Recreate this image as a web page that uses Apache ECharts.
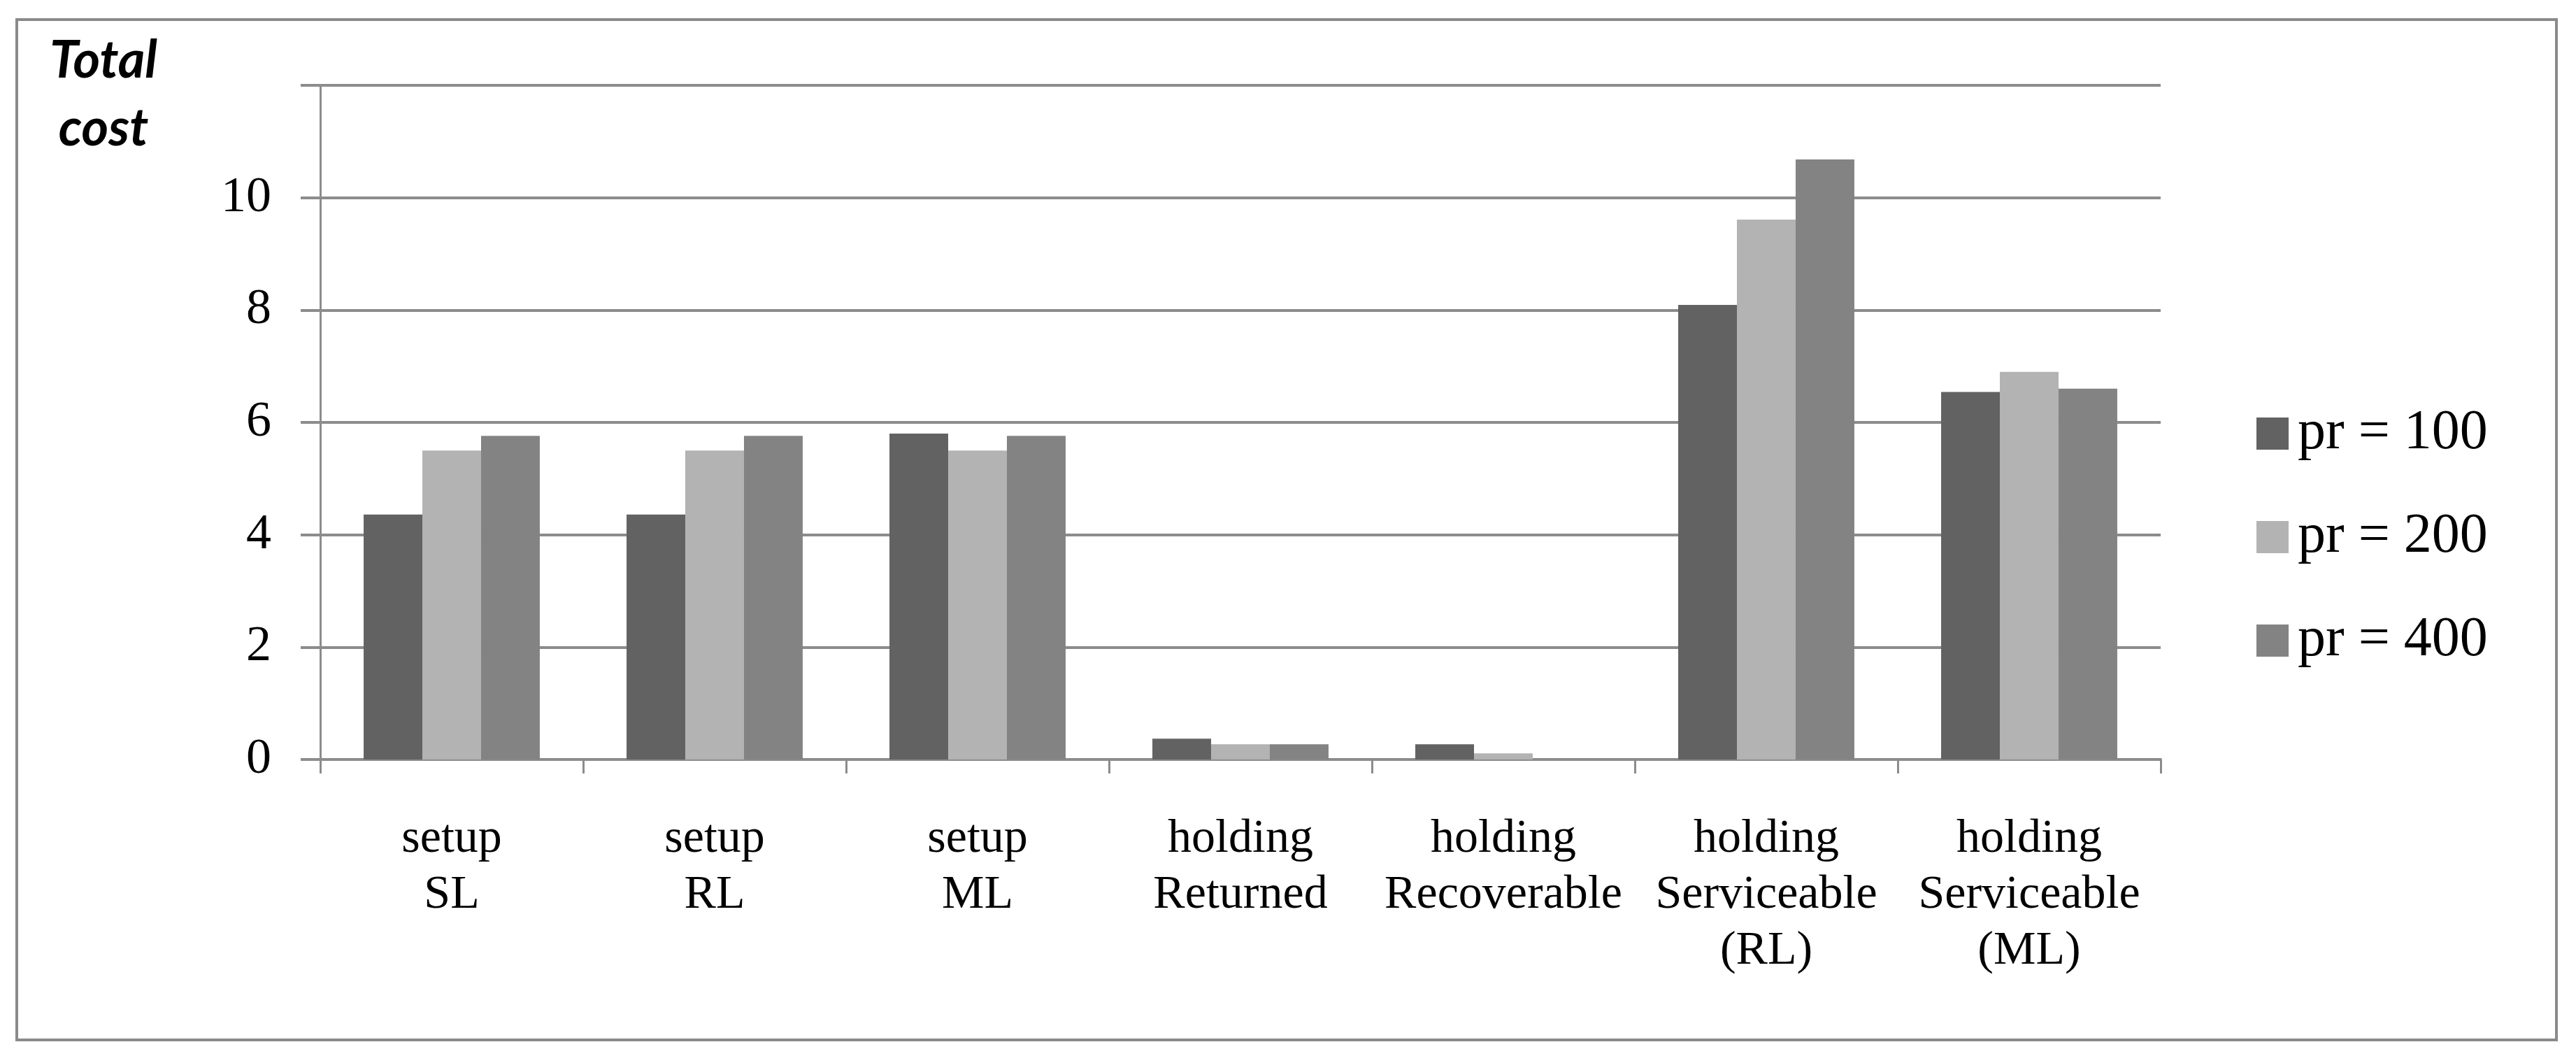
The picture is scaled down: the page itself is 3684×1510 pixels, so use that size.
<!DOCTYPE html>
<html>
<head>
<meta charset="utf-8">
<script src="https://cdn.jsdelivr.net/npm/echarts@6/dist/echarts.min.js"></script>
<style>html,body{margin:0;padding:0;background:#fff}#c{width:3684px;height:1510px}</style>
</head>
<body>
<div id="c"></div>
<script>
const categories = ['setup\nSL', 'setup\nRL', 'setup\nML', 'holding\nReturned', 'holding\nRecoverable', 'holding\nServiceable\n(RL)', 'holding\nServiceable\n(ML)'];
const seriesNames = ['pr = 100', 'pr = 200', 'pr = 400'];
const pr100 = [4.36, 4.36, 5.8, 0.37, 0.27, 8.09, 6.54];
const pr200 = [5.5, 5.5, 5.5, 0.27, 0.11, 9.61, 6.9];
const pr400 = [5.76, 5.76, 5.76, 0.27, 0, 10.68, 6.6];
const colors = ['#626262', '#b3b3b3', '#838383'];
const yMin = 0, yMax = 12, yInterval = 2;

const chart = echarts.init(document.getElementById('c'), null, {renderer: 'canvas'});
const serif = '"Liberation Serif", "DejaVu Serif", serif';
chart.setOption({
  backgroundColor: '#ffffff',
  animation: false,
  graphic: [
    {type: 'rect', shape: {x: 24, y: 28, width: 3632, height: 1459}, style: {fill: 'none', stroke: '#8a8a8a', lineWidth: 4}, z: 0},
    {type: 'text', x: 148, y: 50, style: {text: 'Total', font: 'italic bold 74px Lato', fill: '#000', textAlign: 'center'}},
    {type: 'text', x: 148, y: 147, style: {text: 'cost', font: 'italic bold 74px Lato', fill: '#000', textAlign: 'center'}}
  ],
  legend: {
    orient: 'vertical',
    left: 3222,
    top: 572,
    itemWidth: 46,
    itemHeight: 46,
    itemGap: 62,
    data: seriesNames,
    icon: 'rect',
    textStyle: {fontFamily: serif, fontSize: 80, color: '#000', lineHeight: 86, padding: [0, 0, 0, 8]}
  },
  grid: {left: 458, right: 594, top: 122, bottom: 424, containLabel: false},
  xAxis: {
    type: 'category',
    data: categories,
    axisLine: {lineStyle: {color: '#8c8c8c', width: 4}},
    axisTick: {show: true, length: 20, lineStyle: {color: '#8c8c8c', width: 3}},
    axisLabel: {interval: 0, margin: 74, fontFamily: serif, fontSize: 68, lineHeight: 80, color: '#000'}
  },
  yAxis: {
    type: 'value',
    min: yMin, max: yMax, interval: yInterval,
    axisLine: {show: true, lineStyle: {color: '#8c8c8c', width: 3}},
    axisTick: {show: true, length: 28, lineStyle: {color: '#8c8c8c', width: 4}},
    splitLine: {show: true, lineStyle: {color: '#8c8c8c', width: 4}},
    axisLabel: {margin: 70, fontFamily: serif, fontSize: 72, color: '#000', formatter: v => v === yMax ? '' : String(v)}
  },
  series: [pr100, pr200, pr400].map((d, i) => ({
    name: seriesNames[i],
    type: 'bar',
    data: d,
    barGap: '0%',
    barCategoryGap: '33%',
    itemStyle: {color: colors[i]}
  }))
});
</script>
</body>
</html>
